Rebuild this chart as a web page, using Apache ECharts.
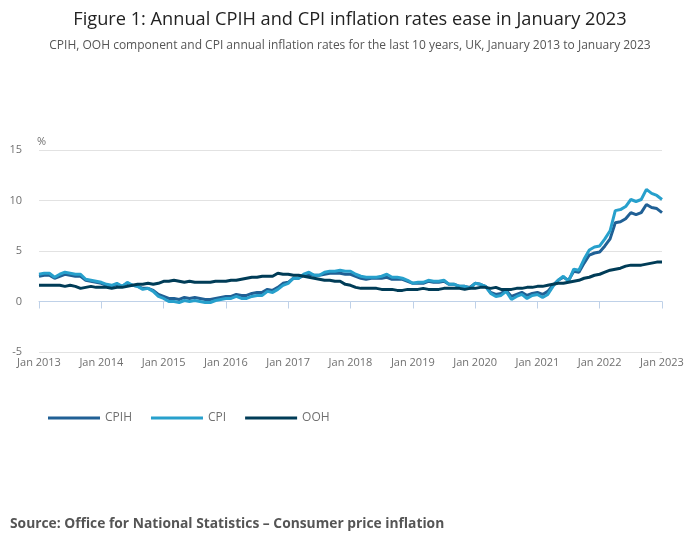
<!DOCTYPE html>
<html>
<head>
<meta charset="utf-8">
<script src="https://cdn.jsdelivr.net/npm/echarts@6/dist/echarts.min.js"></script>
<style>
html,body{margin:0;padding:0;background:#fff;}
#chart{width:700px;height:549px;}
</style>
</head>
<body>
<div id="chart"></div>
<script>
var years = [2013,2014,2015,2016,2017,2018,2019,2020,2021,2022,2023];
var monthNames = ['Jan','Feb','Mar','Apr','May','Jun','Jul','Aug','Sep','Oct','Nov','Dec'];

var cpih = [
  2.5,2.6,2.6,2.3,2.5,2.7,2.6,2.5,2.5,2.1,2.0,1.9,
  1.8,1.6,1.5,1.7,1.5,1.8,1.6,1.5,1.3,1.3,1.1,0.7,
  0.5,0.3,0.3,0.2,0.4,0.3,0.4,0.3,0.2,0.2,0.3,0.4,
  0.5,0.5,0.7,0.6,0.6,0.8,0.9,0.9,1.2,1.1,1.4,1.8,
  1.9,2.3,2.3,2.6,2.7,2.6,2.6,2.7,2.8,2.8,2.8,2.7,
  2.7,2.5,2.3,2.2,2.3,2.3,2.3,2.4,2.2,2.2,2.2,2.0,
  1.8,1.8,1.8,2.0,1.9,1.9,2.0,1.7,1.7,1.5,1.5,1.4,
  1.8,1.7,1.5,0.9,0.7,0.8,1.1,0.5,0.7,0.9,0.6,0.8,
  0.9,0.7,1.0,1.6,2.1,2.4,2.1,3.0,2.9,3.8,4.6,4.8,
  4.9,5.5,6.2,7.8,7.9,8.2,8.8,8.6,8.8,9.6,9.3,9.2,
  8.8
];
var cpi = [
  2.7,2.8,2.8,2.4,2.7,2.9,2.8,2.7,2.7,2.2,2.1,2.0,
  1.9,1.7,1.6,1.8,1.5,1.9,1.6,1.5,1.2,1.3,1.0,0.5,
  0.3,0.0,0.0,-0.1,0.1,0.0,0.1,0.0,-0.1,-0.1,0.1,0.2,
  0.3,0.3,0.5,0.3,0.3,0.5,0.6,0.6,1.0,0.9,1.2,1.6,
  1.8,2.3,2.3,2.7,2.9,2.6,2.6,2.9,3.0,3.0,3.1,3.0,
  3.0,2.7,2.5,2.4,2.4,2.4,2.5,2.7,2.4,2.4,2.3,2.1,
  1.8,1.9,1.9,2.1,2.0,2.0,2.1,1.7,1.7,1.5,1.5,1.3,
  1.8,1.7,1.5,0.8,0.5,0.6,1.0,0.2,0.5,0.7,0.3,0.6,
  0.7,0.4,0.7,1.5,2.1,2.5,2.0,3.2,3.1,4.2,5.1,5.4,
  5.5,6.2,7.0,9.0,9.1,9.4,10.1,9.9,10.1,11.1,10.7,10.5,
  10.1
];
var ooh = [
  1.6,1.6,1.6,1.6,1.6,1.5,1.6,1.5,1.3,1.4,1.5,1.4,
  1.4,1.4,1.3,1.4,1.4,1.5,1.6,1.7,1.7,1.8,1.7,1.8,
  2.0,2.0,2.1,2.0,1.9,2.0,1.9,1.9,1.9,1.9,2.0,2.0,
  2.0,2.1,2.1,2.2,2.3,2.4,2.4,2.5,2.5,2.5,2.8,2.7,
  2.7,2.6,2.6,2.5,2.4,2.3,2.2,2.1,2.1,2.0,2.0,1.7,
  1.6,1.4,1.3,1.3,1.3,1.3,1.2,1.2,1.2,1.1,1.1,1.2,
  1.2,1.2,1.3,1.2,1.2,1.2,1.3,1.3,1.3,1.3,1.2,1.3,
  1.3,1.4,1.4,1.3,1.4,1.2,1.2,1.2,1.3,1.3,1.4,1.4,
  1.5,1.5,1.6,1.7,1.8,1.8,1.9,2.0,2.1,2.3,2.4,2.6,
  2.7,2.9,3.1,3.2,3.3,3.5,3.6,3.6,3.6,3.7,3.8,3.9,
  3.9
];
var yTicks = {min: -5, max: 15, interval: 5};

var categories = [];
years.forEach(function (y) {
  monthNames.forEach(function (m) {
    if (y === 2023 && m !== 'Jan') return;
    categories.push(m + ' ' + y);
  });
});

var FONT = '"Open Sans", "Noto Sans", sans-serif';
var chart = echarts.init(document.getElementById('chart'), null, {renderer: 'canvas'});
chart.setOption({
  backgroundColor: '#ffffff',
  animation: false,
  title: [
    {
      text: 'Figure 1: Annual CPIH and CPI inflation rates ease in January 2023',
      left: 'center', top: 6,
      textStyle: {fontFamily: FONT, fontSize: 18.2, fontWeight: 'normal', color: '#222222'}
    },
    {
      text: 'CPIH, OOH component and CPI annual inflation rates for the last 10 years, UK, January 2013 to January 2023',
      left: 'center', top: 35,
      textStyle: {fontFamily: FONT, fontSize: 12, fontWeight: 'normal', color: '#555555'}
    },
    {
      text: 'Source: Office for National Statistics \u2013 Consumer price inflation',
      left: 5, top: 512,
      textStyle: {fontFamily: FONT, fontSize: 13.8, fontWeight: 'bold', color: '#555555'}
    }
  ],
  graphic: [
    {type: 'text', left: 37, top: 136, style: {text: '%', font: '11px "Open Sans", sans-serif', fill: '#707070'}}
  ],
  legend: {
    left: 43, top: 407,
    itemWidth: 52, itemHeight: 3, itemGap: 19,
    icon: 'rect',
    textStyle: {fontFamily: FONT, fontSize: 12, color: '#707070'},
    data: ['CPIH', 'CPI', 'OOH']
  },
  grid: {left: 39, right: 38, top: 150, bottom: 197, containLabel: false},
  xAxis: {
    type: 'category',
    boundaryGap: false,
    data: categories,
    axisLine: {lineStyle: {color: '#bfd1e8', width: 1}},
    axisTick: {interval: 11, length: 7, lineStyle: {color: '#bfd1e8'}},
    axisLabel: {interval: 11, fontFamily: FONT, fontSize: 11, color: '#707070', margin: 5},
    splitLine: {show: false}
  },
  yAxis: {
    type: 'value',
    min: yTicks.min, max: yTicks.max, interval: yTicks.interval,
    axisLine: {show: false},
    axisTick: {show: false},
    axisLabel: {fontFamily: FONT, fontSize: 11, color: '#707070', margin: 17},
    splitLine: {lineStyle: {color: '#e2e2e2', width: 1}}
  },
  series: [
    {name: 'CPIH', type: 'line', data: cpih, showSymbol: false, symbol: 'none',
     lineStyle: {width: 3, color: '#206095'}, itemStyle: {color: '#206095'}},
    {name: 'CPI', type: 'line', data: cpi, showSymbol: false, symbol: 'none',
     lineStyle: {width: 3, color: '#27a0cc'}, itemStyle: {color: '#27a0cc'}},
    {name: 'OOH', type: 'line', data: ooh, showSymbol: false, symbol: 'none',
     lineStyle: {width: 3, color: '#003c57'}, itemStyle: {color: '#003c57'}}
  ]
});
</script>
</body>
</html>
